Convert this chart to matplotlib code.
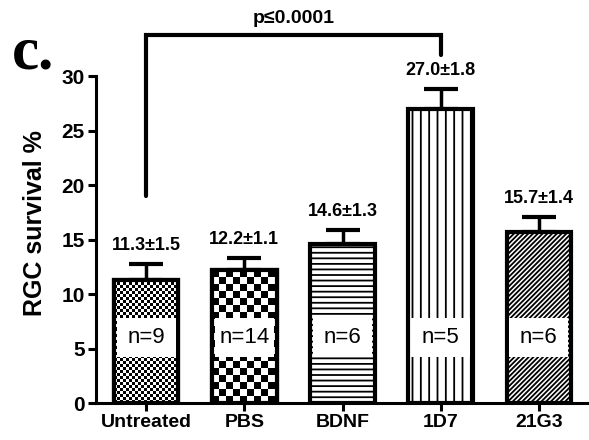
import numpy as np
import matplotlib
matplotlib.use('Agg')
import matplotlib.pyplot as plt
from matplotlib.patches import Rectangle

# data
groups = ['Untreated', 'PBS', 'BDNF', '1D7', '21G3']
means = [11.3, 12.2, 14.6, 27.0, 15.7]
sems = [1.5, 1.1, 1.3, 1.8, 1.4]
n_counts = [9, 14, 6, 5, 6]
yticks = [0, 5, 10, 15, 20, 25, 30]
p_text = 'p\u22640.0001'

plt.rcParams['font.family'] = ['Liberation Sans', 'DejaVu Sans']
plt.rcParams['hatch.linewidth'] = 1.3

fig = plt.figure(figsize=(5.89, 4.40), dpi=100)
ax = fig.add_axes([0.163, 0.084, 0.837, 0.743])
ax.set_xlim(-0.51, 4.51)
ax.set_ylim(0, 30)

x = np.arange(len(groups))
width = 0.66
hatches = [None, None, '---', '||', '///////']
checker_px = [3.0, 7.0, None, None, None]

# pixel -> data scale
px_x = ax.transData.transform((1, 0))[0] - ax.transData.transform((0, 0))[0]
px_y = ax.transData.transform((0, 1))[1] - ax.transData.transform((0, 0))[1]

for i in range(len(groups)):
    bar = ax.bar(x[i], means[i], width, color='white', edgecolor='black',
                 linewidth=3, hatch=hatches[i], zorder=2)[0]
    if checker_px[i]:
        cx = checker_px[i] / px_x
        cy = checker_px[i] / px_y
        nx = int(np.ceil(width / cx))
        ny = int(np.ceil(means[i] / cy))
        board = (np.indices((ny, nx)).sum(axis=0) % 2).astype(float)
        x0 = x[i] - width / 2
        im = ax.imshow(board, cmap='gray', interpolation='nearest', aspect='auto',
                       extent=(x0, x0 + nx * cx, 0, ny * cy), origin='lower', zorder=2.5)
        im.set_clip_path(bar)
        # redraw edge on top
        ax.bar(x[i], means[i], width, color='none', edgecolor='black', linewidth=3, zorder=3)
    # white box with n
    ax.add_patch(Rectangle((x[i] - 0.3, 4.2), 0.6, 3.6, facecolor='white',
                           edgecolor='none', zorder=4))
    ax.text(x[i], 6.0, f'n={n_counts[i]}', ha='center', va='center', fontsize=16, zorder=5)
    # value label
    ax.text(x[i], means[i] + sems[i] + 0.9, f'{means[i]:.1f}\u00b1{sems[i]:.1f}',
            ha='center', va='bottom', fontsize=13, fontweight='bold')

ax.errorbar(x, means, yerr=[np.zeros(len(sems)), sems], fmt='none', ecolor='black',
            elinewidth=2.5, capsize=12, capthick=3, zorder=1.5)

# significance bracket
ax.plot([0, 0, 3, 3], [19.0, 33.8, 33.8, 31.9], color='black', lw=3,
        clip_on=False, solid_capstyle='round', solid_joinstyle='miter')
ax.text(1.5, 34.5, p_text, ha='center', va='bottom', fontsize=14, fontweight='bold')

ax.spines['top'].set_visible(False)
ax.spines['right'].set_visible(False)
ax.spines['left'].set_linewidth(2.2)
ax.spines['bottom'].set_linewidth(2.2)
ax.set_yticks(yticks)
ax.set_xticks(x)
ax.set_xticklabels(groups, fontsize=14, fontweight='bold')
ax.tick_params(axis='y', labelsize=15, width=2.2, length=6, pad=2)
ax.tick_params(axis='x', width=2.2, length=6, pad=2)
for lab in ax.get_yticklabels():
    lab.set_fontweight('bold')
ax.set_ylabel('RGC survival %', fontsize=18, fontweight='bold', va='center')
ax.yaxis.set_label_coords(-0.124, 0.55)

fig.text(0.02, 0.845, 'c.', fontsize=44, fontweight='bold', family='Liberation Serif',
         ha='left', va='baseline')

fig.savefig('out.png', dpi=100)
